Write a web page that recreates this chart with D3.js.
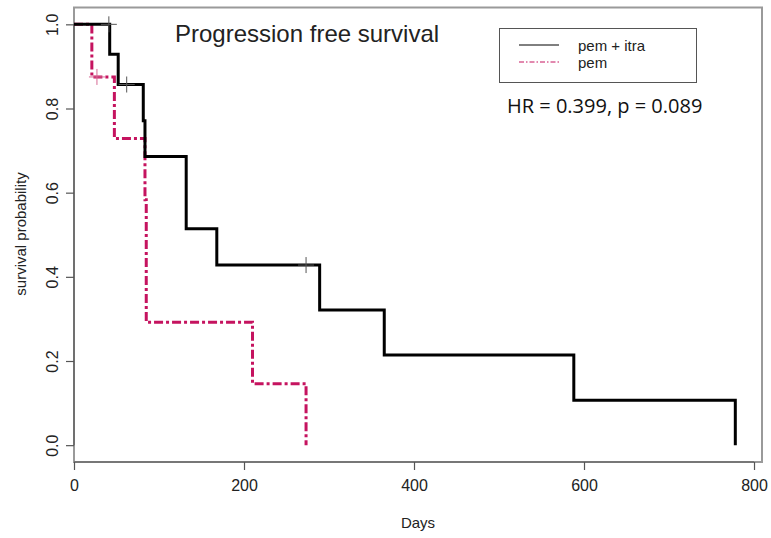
<!DOCTYPE html>
<html>
<head>
<meta charset="utf-8">
<script src="https://cdn.jsdelivr.net/npm/d3@7"></script>
<style>
  body { margin: 0; background: #fff; }
  svg { display: block; }
  .lbl { font-family: "Liberation Sans", Arial, sans-serif; fill: #222; }
</style>
</head>
<body>
<div id="chart"></div>
<script>
// Kaplan-Meier step data
var groups = ["pem + itra", "pem"];
var itraDays = [0, 42, 52, 81.5, 83.5, 132, 168, 289, 365, 588, 778];
var itraSurv = [1, 0.929, 0.857, 0.771, 0.686, 0.514, 0.428, 0.321, 0.214, 0.107, 0];
var itraCensor = [41, 62, 273];
var pemDays = [0, 21, 47.5, 83.5, 85, 210, 273];
var pemSurv = [1, 0.875, 0.729, 0.583, 0.292, 0.146, 0];
var pemCensor = [27];
var xTicks = [0, 200, 400, 600, 800];
var yTicks = [0, 0.2, 0.4, 0.6, 0.8, 1.0];

var width = 771, height = 538;
var colors = { itra: "#000000", pem: "#c5135f" };

var svg = d3.select("#chart").append("svg")
  .attr("width", width)
  .attr("height", height);

// scales (R style: y padded 4%, x starts at 0)
var x = d3.scaleLinear().domain([0, 809.4]).range([74, 762]);
var y = d3.scaleLinear().domain([-0.04, 1.04]).range([462, 7.5]);

// plot box
svg.append("rect")
  .attr("x", x(0)).attr("y", y(1.04))
  .attr("width", x(809.4) - x(0))
  .attr("height", y(-0.04) - y(1.04))
  .attr("fill", "none")
  .attr("stroke", "#9a9a9a")
  .attr("stroke-width", 2);

// axes
var xAxis = svg.append("g")
  .attr("transform", "translate(0," + y(-0.04) + ")")
  .call(d3.axisBottom(x).tickValues(xTicks).tickSize(8).tickPadding(10).tickFormat(d3.format("d")));
var yAxis = svg.append("g")
  .attr("transform", "translate(" + x(0) + ",0)")
  .call(d3.axisLeft(y).tickValues(yTicks).tickSize(8).tickFormat(d3.format(".1f")));

[xAxis, yAxis].forEach(function (g) {
  g.select(".domain").attr("stroke", "#555").attr("stroke-width", 1.2);
  g.selectAll(".tick line").attr("stroke", "#555").attr("stroke-width", 1.2);
  g.selectAll("text")
    .attr("class", "lbl")
    .style("font-size", "16px")
    .attr("fill", "#222");
});
// axis lines span tick range only
xAxis.select(".domain").attr("d", "M" + x(0) + ",0H" + x(800));
yAxis.select(".domain").attr("d", "M0," + y(0) + "V" + y(1));

// rotated y tick labels
yAxis.selectAll(".tick text")
  .attr("transform", "rotate(-90)")
  .attr("x", 0)
  .attr("y", -22)
  .attr("dy", "0.35em")
  .attr("text-anchor", "middle");

// axis titles
svg.append("text")
  .attr("class", "lbl")
  .attr("x", 418).attr("y", 528)
  .attr("text-anchor", "middle")
  .style("font-size", "15px")
  .text("Days");

svg.append("text")
  .attr("class", "lbl")
  .attr("transform", "translate(26,234) rotate(-90)")
  .attr("text-anchor", "middle")
  .style("font-size", "15px")
  .text("survival probability");

// step curves
var line = d3.line()
  .x(function (d) { return x(d[0]); })
  .y(function (d) { return y(d[1]); })
  .curve(d3.curveStepAfter);

var stepValue = function (days, surv, t) {
  var v = surv[0];
  for (var i = 0; i < days.length; i++) { if (days[i] <= t) v = surv[i]; }
  return v;
};

var series = [
  { key: "pem", days: pemDays, surv: pemSurv, censor: pemCensor, color: colors.pem, dash: "9,3,3,3" },
  { key: "itra", days: itraDays, surv: itraSurv, censor: itraCensor, color: colors.itra, dash: null }
];

series.forEach(function (s) {
  svg.append("path")
    .datum(d3.zip(s.days, s.surv))
    .attr("d", line)
    .attr("fill", "none")
    .attr("stroke", s.color)
    .attr("stroke-width", 3)
    .attr("stroke-dasharray", s.dash);

  // censor marks (+)
  var marks = svg.append("g");
  s.censor.forEach(function (t) {
    var cx = x(t), cy = y(stepValue(s.days, s.surv, t));
    marks.append("path")
      .attr("d", "M" + (cx - 8) + "," + cy + "H" + (cx + 8) + "M" + cx + "," + (cy - 8) + "V" + (cy + 8))
      .attr("stroke", s.key === "pem" ? "#d66a95" : "#555")
      .attr("stroke-width", 1);
  });
});

// title
svg.append("text")
  .attr("class", "lbl")
  .attr("x", 175).attr("y", 42)
  .style("font-size", "24px")
  .attr("fill", "#111")
  .text("Progression free survival");

// legend
var legend = svg.append("g");
legend.append("rect")
  .attr("x", 499.5).attr("y", 28.5)
  .attr("width", 197).attr("height", 54)
  .attr("fill", "#fff")
  .attr("stroke", "#555")
  .attr("stroke-width", 1);

var legendRows = [
  { label: groups[0], color: colors.itra, dash: null, y: 45 },
  { label: groups[1], color: colors.pem, dash: "5,2,1.5,2", y: 62 }
];
legendRows.forEach(function (r) {
  legend.append("line")
    .attr("x1", 519).attr("x2", 559)
    .attr("y1", r.y).attr("y2", r.y)
    .attr("stroke", r.color)
    .attr("stroke-width", 1)
    .attr("stroke-dasharray", r.dash);
  legend.append("text")
    .attr("class", "lbl")
    .attr("x", 578).attr("y", r.y + 5.5)
    .style("font-size", "15px")
    .text(r.label);
});

// hazard ratio note
svg.append("text")
  .attr("x", 507).attr("y", 113)
  .style("font-family", "'Open Sans', 'Noto Sans', sans-serif")
  .style("font-size", "20px")
  .attr("fill", "#111")
  .text("HR = 0.399, p = 0.089");
</script>
</body>
</html>
